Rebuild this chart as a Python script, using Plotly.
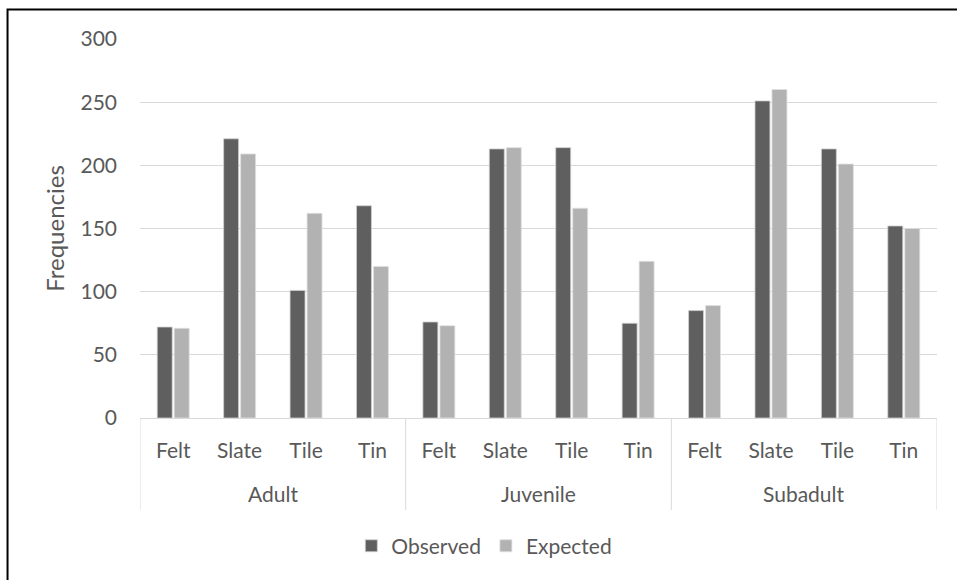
import plotly.graph_objects as go

# Age groups and roofing materials (two-level category axis)
age_groups = ["Adult", "Juvenile", "Subadult"]
materials = ["Felt", "Slate", "Tile", "Tin"]

# Frequencies per age group, in material order
observed = [72, 221, 101, 168,   76, 213, 214, 75,   85, 251, 213, 152]
expected = [71, 209, 162, 120,   73, 214, 166, 124,  89, 260, 201, 150]

# One unique category key per bar pair; only the material name is shown
keys = [f"{g}|{m}" for g in age_groups for m in materials]
labels = [m for _ in age_groups for m in materials]

TEXT = "#595959"
GRID = "#d9d9d9"
FONT = "Lato, 'Open Sans', sans-serif"
FS = 21

fig = go.Figure()
fig.add_trace(go.Bar(
    x=keys, y=observed, name="Observed",
    marker=dict(color="#5f5f5f", line=dict(color="#d0d0d0", width=0.8)),
))
fig.add_trace(go.Bar(
    x=keys, y=expected, name="Expected",
    marker=dict(color="#b2b2b2", line=dict(color="#e0e0e0", width=0.8)),
))

n_mat = len(materials)
shapes = [
    # outer chart frame
    dict(type="rect", xref="paper", yref="paper",
         x0=-0.1662, x1=1.2, y0=-0.6, y1=1.0778,
         line=dict(color="black", width=2), fillcolor="rgba(0,0,0,0)", layer="below"),
]
# group dividers below the axis
for i in range(len(age_groups) + 1):
    xpos = i * n_mat - 0.5
    shapes.append(dict(type="line", xref="x", yref="paper",
                       x0=xpos, x1=xpos, y0=0, y1=-0.2427,
                       line=dict(color=GRID, width=1)))

annotations = []
for i, g in enumerate(age_groups):
    annotations.append(dict(
        text=g, xref="x", yref="paper",
        x=i * n_mat + (n_mat - 1) / 2, y=-0.2005,
        xanchor="center", yanchor="middle", showarrow=False,
        font=dict(family=FONT, size=FS, color=TEXT),
    ))

fig.update_layout(
    width=957, height=580,
    margin=dict(l=140, r=20, t=39, b=162),
    paper_bgcolor="white", plot_bgcolor="white",
    font=dict(family=FONT, size=FS, color=TEXT),
    barmode="group", bargap=0.488, bargroupgap=0.12,
    showlegend=True,
    legend=dict(orientation="h", x=0.432, xanchor="center", y=-0.338, yanchor="middle",
                font=dict(size=FS, color=TEXT), traceorder="normal"),
    xaxis=dict(
        type="category", categoryorder="array", categoryarray=keys,
        tickmode="array", tickvals=keys, ticktext=labels,
        range=[-0.5, len(keys) - 0.5],
        showline=True, linecolor=GRID, linewidth=1,
        tickfont=dict(size=FS, color=TEXT),
        showgrid=False, ticks="", ticklabelstandoff=14,
    ),
    yaxis=dict(
        range=[0, 300], dtick=50, tick0=0,
        showgrid=True, gridcolor=GRID, gridwidth=1,
        zeroline=False, showline=False, ticks="",
        tickfont=dict(size=FS, color=TEXT), ticklabelstandoff=22,
        title=dict(text="Frequencies", font=dict(size=24, color=TEXT), standoff=9),
    ),
    shapes=shapes,
    annotations=annotations,
)

fig.write_html("out.html")
